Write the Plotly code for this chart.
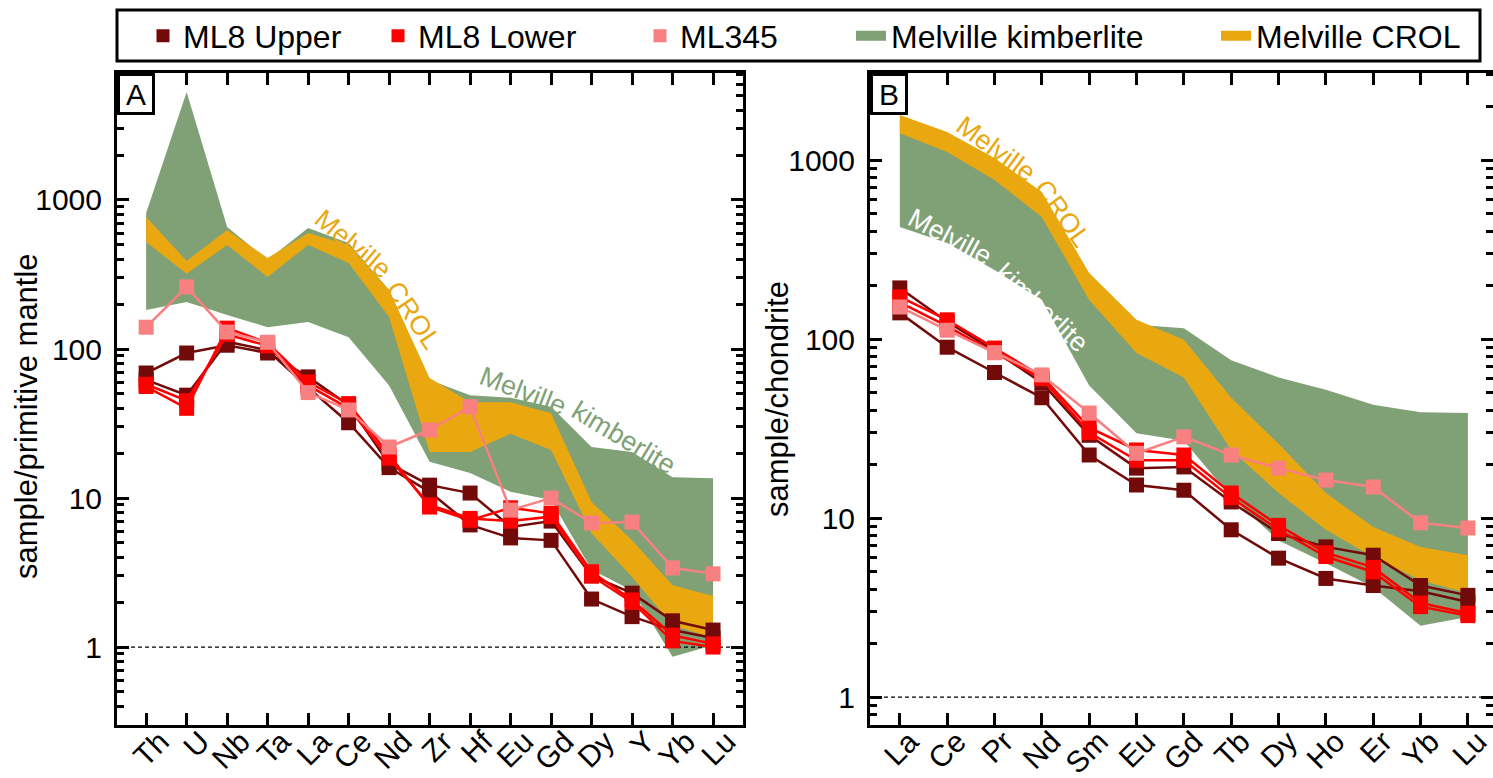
import plotly.graph_objects as go

W, H = 1493, 778

# ---------------- data ----------------
elements_a = ["Th", "U", "Nb", "Ta", "La", "Ce", "Nd", "Zr", "Hf", "Eu", "Gd", "Dy", "Y", "Yb", "Lu"]
elements_b = ["La", "Ce", "Pr", "Nd", "Sm", "Eu", "Gd", "Tb", "Dy", "Ho", "Er", "Yb", "Lu"]

# Panel A: sample / primitive mantle
a_upper_1 = [69, 94, 106, 94, 65, 42, 17, 12.2, 10.8, 6.4, 7.0, 3.0, 2.3, 1.5, 1.3]
a_upper_2 = [62, 49, 112, 98, 55, 32, 16, 11, 6.6, 5.4, 5.2, 2.1, 1.6, 1.3, 1.15]
a_lower_1 = [56, 40, 138, 110, 60, 43, 19.5, 8.7, 7.1, 8.6, 7.9, 3.2, 2.07, 1.2, 1.05]
a_lower_2 = [58, 45, 125, 105, 57, 40, 18.5, 9.0, 7.3, 7.0, 7.5, 3.0, 2.0, 1.1, 1.0]
a_ml345 = [140, 261, 130, 111, 51, 39, 22, 28.6, 41, 8.3, 10, 6.8, 6.9, 3.4, 3.1]
a_kimb_hi = [818, 5300, 659, 396, 649, 515, 249, 62, 49, 47, 41, 22, 20.4, 13.8, 13.6]
a_kimb_lo = [183, 207, 169, 140, 152, 120, 57, 17.5, 14.7, 11, 9.7, 3.3, 2.4, 0.86, 1.03]
a_crol_hi = [769, 390, 629, 408, 601, 499, 249, 64, 44, 44, 37, 9.4, 5.2, 2.6, 2.2]
a_crol_lo = [522, 320, 499, 304, 499, 378, 164, 20.4, 20.4, 27, 21, 5.8, 2.95, 1.4, 1.15]

# Panel B: sample / chondrite
b_upper_1 = [193, 125, 86, 57, 29, 19, 19.3, 12.3, 8.2, 6.9, 6.2, 4.2, 3.7]
b_upper_2 = [140, 90, 65, 47, 22.5, 15.3, 14.3, 8.6, 5.97, 4.6, 4.2, 3.9, 3.4]
b_lower_1 = [172, 128, 89, 62, 32, 24, 22.5, 13.8, 9.1, 6.4, 5.3, 3.35, 2.94]
b_lower_2 = [160, 118, 84, 60, 30, 21, 21, 13, 8.6, 6.1, 5.0, 3.2, 2.85]
b_ml345 = [151, 112, 84, 63, 38.6, 23, 28.4, 22.5, 19, 16.3, 14.9, 9.4, 8.8]
b_kimb_hi = [1650, 1330, 960, 620, 220, 120, 115, 76, 61, 52, 43, 39, 38.6]
b_kimb_lo = [423, 344, 243, 165, 55, 29.8, 27, 13.1, 7.5, 5.6, 4.1, 2.5, 2.8]
b_crol_hi = [1783, 1433, 1026, 663, 234, 128, 99, 47, 26, 13.8, 8.9, 6.9, 6.2]
b_crol_lo = [1410, 1108, 773, 481, 165, 83.5, 61, 24, 13.8, 8.6, 6.05, 4.5, 3.8]

# ---------------- style ----------------
C_UP = "#730A0A"
C_LO = "#FF0000"
C_345 = "#F88080"
C_KIMB = "#80A176"
C_CROL = "#E9A810"
FONT = "Liberation Sans, Arial, sans-serif"

A_L, A_R, TOP, BOT = 117, 743, 73, 725
B_L, B_R = 870, 1493
A_XR = [-0.72, 14.74]
B_XR = [-0.63, 12.53]


def px(p):
    return p / W


def py(p):
    return 1 - p / H


fig = go.Figure()


def band(xax, yax, hi, lo, color):
    n = len(hi)
    xs = list(range(n)) + list(range(n))[::-1]
    ys = list(hi) + list(lo)[::-1]
    fig.add_trace(go.Scatter(x=xs, y=ys, xaxis=xax, yaxis=yax, mode="lines",
                             fill="toself", fillcolor=color, line=dict(width=0, color=color),
                             showlegend=False, hoverinfo="skip"))


def series(xax, yax, vals, color):
    fig.add_trace(go.Scatter(x=list(range(len(vals))), y=vals, xaxis=xax, yaxis=yax,
                             mode="lines+markers", line=dict(color=color, width=2.5),
                             marker=dict(symbol="square", size=15, color=color, line=dict(width=0)),
                             showlegend=False))


for xax, yax, xr, kh, kl, ch, cl, ups, los, ml in [
    ("x", "y", A_XR, a_kimb_hi, a_kimb_lo, a_crol_hi, a_crol_lo,
     [a_upper_1, a_upper_2], [a_lower_1, a_lower_2], a_ml345),
    ("x2", "y2", B_XR, b_kimb_hi, b_kimb_lo, b_crol_hi, b_crol_lo,
     [b_upper_1, b_upper_2], [b_lower_1, b_lower_2], b_ml345),
]:
    band(xax, yax, kh, kl, C_KIMB)
    band(xax, yax, ch, cl, C_CROL)
    fig.add_trace(go.Scatter(x=xr, y=[1, 1], xaxis=xax, yaxis=yax, mode="lines",
                             line=dict(color="black", width=1.3, dash="4px,3px"),
                             showlegend=False, hoverinfo="skip"))
    for v in ups:
        series(xax, yax, v, C_UP)
    for v in los:
        series(xax, yax, v, C_LO)
    series(xax, yax, ml, C_345)

# ---------------- legend (one legend per entry for exact placement) ----------------
leg_items = [
    ("ML8 Upper", C_UP, "marker", 143),
    ("ML8 Lower", C_LO, "marker", 378),
    ("ML345", C_345, "marker", 640),
    ("Melville kimberlite", C_KIMB, "band", 851),
    ("Melville CROL", C_CROL, "band", 1216),
]
legend_layouts = {}
for i, (name, col, kind, xpos) in enumerate(leg_items):
    lname = "legend" if i == 0 else "legend%d" % (i + 1)
    if kind == "marker":
        tr = go.Scatter(x=[None], y=[None], mode="markers", name=name,
                        marker=dict(symbol="square", size=13, color=col))
    else:
        tr = go.Scatter(x=[None], y=[None], mode="lines", name=name,
                        line=dict(color=col, width=18))
    tr.update(legend=lname, showlegend=True, hoverinfo="skip")
    fig.add_trace(tr)
    legend_layouts[lname] = dict(x=px(xpos), y=py(36), xanchor="left", yanchor="middle",
                                 orientation="h", bgcolor="rgba(0,0,0,0)", borderwidth=0,
                                 font=dict(family=FONT, size=32, color="black"))

# legend box
fig.add_shape(type="rect", xref="paper", yref="paper", x0=px(117), x1=px(1480), y0=py(61), y1=py(10),
              line=dict(color="black", width=3), fillcolor="rgba(0,0,0,0)", layer="below")

# ---------------- axes ----------------
common_x = dict(showline=True, linewidth=3, linecolor="black", mirror="ticks", ticks="inside",
                ticklen=12, tickwidth=3, tickcolor="black", tickangle=-45, showgrid=False,
                zeroline=False, automargin=False, tickfont=dict(family=FONT, size=30, color="black"),
                ticklabelstandoff=-16, ticklabeloverflow="allow")
common_y = dict(type="log", showline=True, linewidth=3, linecolor="black", mirror="ticks",
                ticks="inside", ticklen=12, tickwidth=3, tickcolor="black", showgrid=False,
                zeroline=False, automargin=False, tickmode="linear", tick0=0, dtick=1,
                exponentformat="none", tickfont=dict(family=FONT, size=30, color="black"),
                ticklabelstandoff=6,
                minor=dict(ticks="inside", ticklen=7, tickwidth=3, tickcolor="black", dtick="D1",
                           showgrid=False))

fig.update_layout(
    width=W, height=H, margin=dict(l=0, r=0, t=0, b=0),
    plot_bgcolor="white", paper_bgcolor="white",
    font=dict(family=FONT, size=30, color="black"),
    xaxis=dict(common_x, domain=[px(A_L), px(A_R)], anchor="y", range=A_XR, ticklabelshift=14,
               tickmode="array", tickvals=list(range(len(elements_a))), ticktext=elements_a),
    yaxis=dict(common_y, domain=[py(BOT), py(TOP)], anchor="x", range=[-0.523, 3.852]),
    xaxis2=dict(common_x, domain=[px(B_L), px(B_R)], anchor="y2", range=B_XR, ticklabelshift=10,
                tickmode="array", tickvals=list(range(len(elements_b))), ticktext=elements_b),
    yaxis2=dict(common_y, domain=[py(BOT), py(TOP)], anchor="x2", range=[-0.156, 3.486]),
    **legend_layouts,
)

# ---------------- annotations ----------------
def note(text, xp, yp, angle, color, size=27, **kw):
    fig.add_annotation(text=text, xref="paper", yref="paper", x=px(xp), y=py(yp),
                       textangle=angle, showarrow=False, xanchor="center", yanchor="middle",
                       font=dict(family=FONT, size=size, color=color), **kw)


# axis titles
note("sample/primitive mantle", 27, 416, -90, "black", size=31)
note("sample/chondrite", 777, 399, -90, "black", size=31)

# panel letters
for letter, xl in [("A", A_L), ("B", B_L)]:
    fig.add_annotation(text=letter, xref="paper", yref="paper", x=px(xl), y=py(TOP),
                       xanchor="left", yanchor="top", showarrow=False, bgcolor="white",
                       bordercolor="black", borderwidth=3, borderpad=2, width=28, height=32,
                       font=dict(family=FONT, size=30, color="black"))

# band labels panel A
note("Melville", 353, 244, 40, C_CROL)
note("CROL", 413, 315, 56, C_CROL)
note("Melville", 523, 391, 21, C_KIMB)
note("kimberlite", 624, 438, 31, C_KIMB)
# band labels panel B
note("Melville", 996, 149, 36, C_CROL)
note("CROL", 1062, 213, 54, C_CROL)
note("Melville", 950, 237, 28, "white")
note("kimberlite", 1042, 308, 43, "white")

fig.write_html("out.html", post_script="document.body.style.margin='0';",
               config={"displayModeBar": False})
